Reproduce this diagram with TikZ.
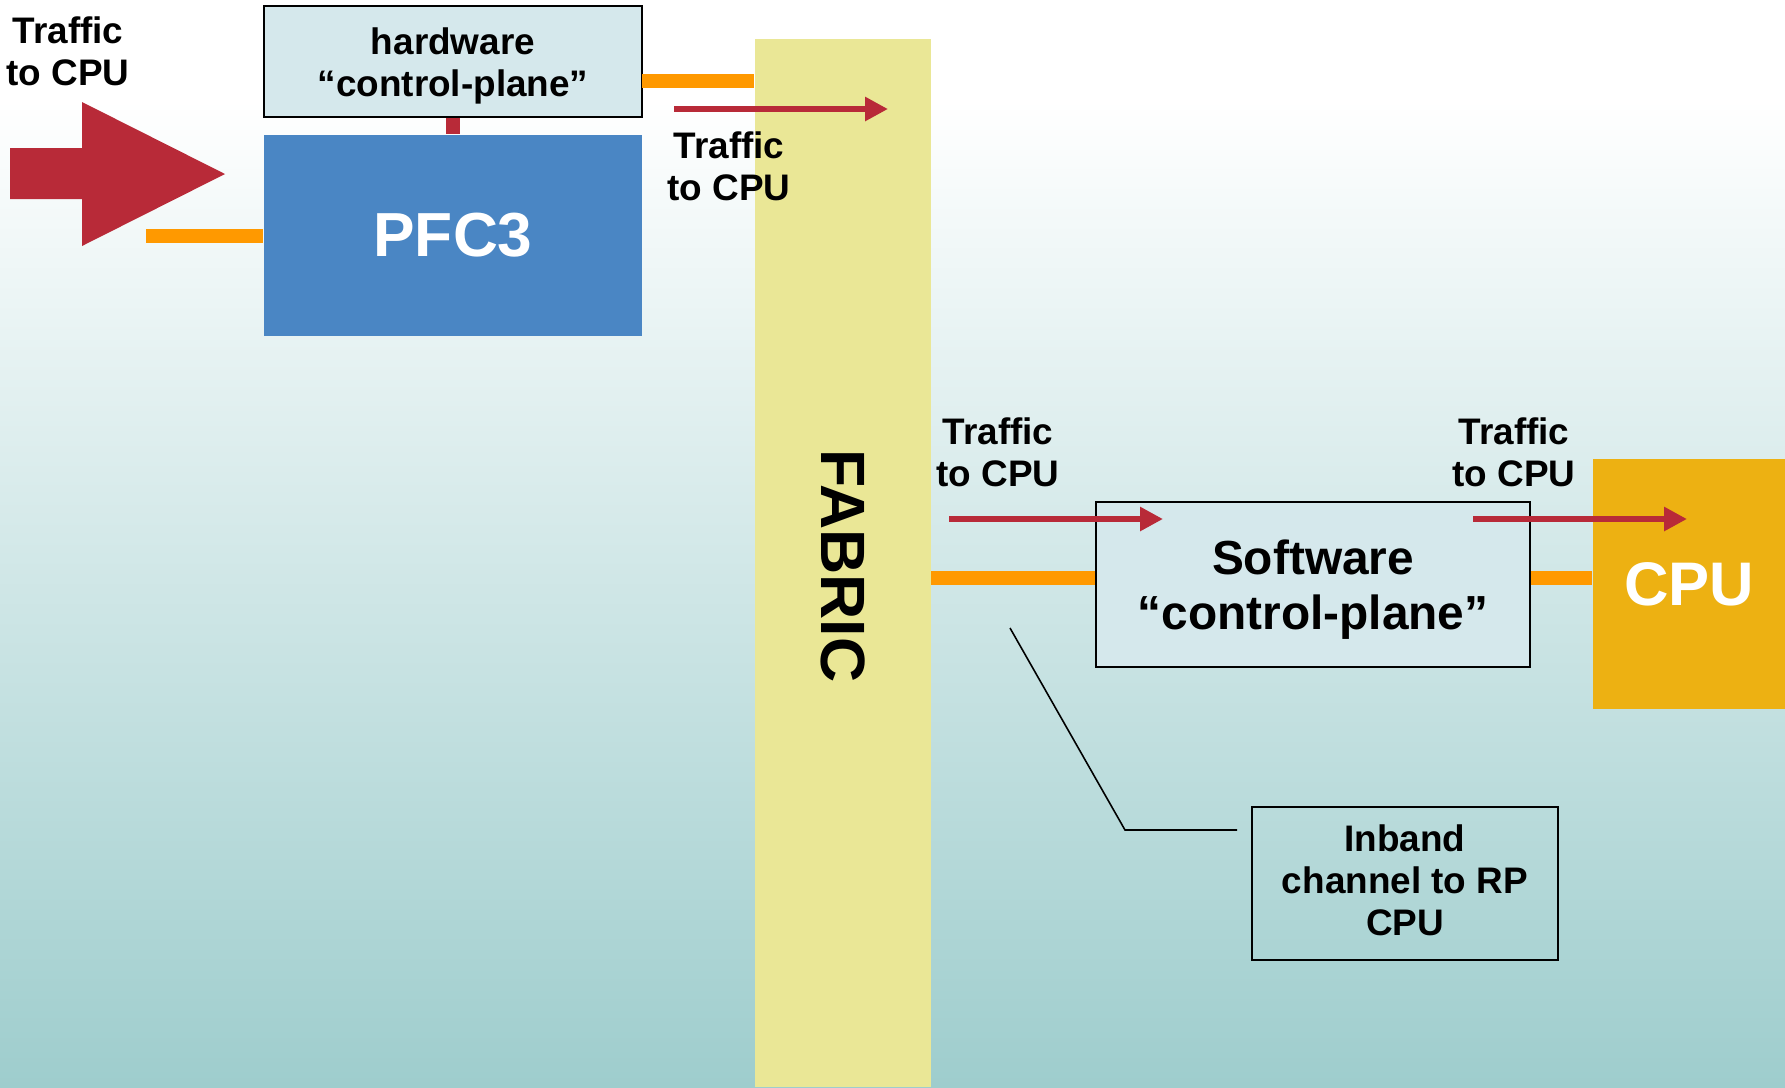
\documentclass[tikz,border=0pt]{standalone}
\usepackage{fontspec}
\setmainfont{Liberation Sans}
\usetikzlibrary{arrows.meta}
\definecolor{redc}{RGB}{184,42,56}
\definecolor{orangec}{RGB}{255,153,0}
\definecolor{fabricc}{RGB}{234,231,150}
\definecolor{pfcc}{RGB}{74,134,196}
\definecolor{cpuc}{RGB}{237,177,18}
\definecolor{boxc}{RGB}{213,232,236}
\definecolor{tealc}{RGB}{158,205,205}
\begin{document}
\begin{tikzpicture}[x=0.01cm,y=-0.01cm,
  lbl/.style={inner sep=0pt,align=center,font=\fontsize{10.5pt}{11.95pt}\selectfont\bfseries},
  lightbox/.style={draw=black,line width=0.6pt,fill=boxc,inner sep=0pt},
  solidbox/.style={inner sep=0pt,align=center,text=white},
  redarrow/.style={draw=redc,line width=1.7pt,-{Triangle[length=0.23cm,width=0.23cm]}},
  orangeline/.style={draw=orangec,line width=4pt},
  calloutline/.style={draw=black,line width=0.45pt}]
\useasboundingbox (0,0) rectangle (1785,1087);
\fill[white] (0,0) rectangle (1785,1087);
\shade[top color=white,bottom color=tealc] (0,100) rectangle (1785,1087);
% fabric
\node[fill=fabricc,minimum width=1.76cm,minimum height=10.48cm,inner sep=0pt] (fabric) at (843,563) {};
\node[inner sep=0pt,rotate=-90,font=\fontsize{17.8pt}{20pt}\selectfont\bfseries] (fabrictext) at (843,566) {FABRIC};
% boxes
\node[lightbox,minimum width=3.78cm,minimum height=1.11cm] (hw) at (453,61.5) {};
\node[lbl] (hwtext) at (453,65.5) {hardware\\``control-plane''};
\node[solidbox,fill=pfcc,minimum width=3.78cm,minimum height=2.01cm,font=\fontsize{17.7pt}{20pt}\selectfont\bfseries] (pfc) at (453,235.5) {PFC3};
\node[lightbox,minimum width=4.34cm,minimum height=1.65cm] (soft) at (1313,584.5) {};
\node[inner sep=0pt,align=center,font=\fontsize{13.6pt}{15.6pt}\selectfont\bfseries] (softtext) at (1313,589.5) {Software\\``control-plane''};
\node[solidbox,fill=cpuc,minimum width=1.92cm,minimum height=2.5cm,font=\fontsize{17.5pt}{20pt}\selectfont\bfseries] (cpu) at (1689,584) {CPU};
\node[draw=black,line width=0.5pt,inner sep=0pt,minimum width=3.06cm,minimum height=1.53cm] (inband) at (1405,883.5) {};
\node[lbl] (inbandtext) at (1405,880) {Inband\\channel to RP\\CPU};
% connectors
\draw[redc,line width=0.14cm] (hw.south) -- (pfc.north);
\coordinate (leftin) at (146,236);
\draw[orangeline] (leftin) -- (pfc.west |- leftin);
\coordinate (hwout) at (642,81);
\draw[orangeline] (hwout) -- (fabric.west |- hwout);
\coordinate (fabout) at (931,578);
\draw[orangeline] (fabout) -- (soft.west |- fabout);
\draw[orangeline] (soft.east |- fabout) -- (cpu.west |- fabout);
% big arrow
\fill[redc] (10,148) -- (82,148) -- (82,102) -- (225,174) -- (82,246) -- (82,199) -- (10,199) -- cycle;
% red arrows
\coordinate (a2s) at (674,109); \coordinate (a2e) at (888,109);
\draw[redarrow] (a2s) -- (a2e);
\coordinate (a3s) at (949,519); \coordinate (a3e) at (1163,519);
\draw[redarrow] (a3s) -- (a3e);
\coordinate (a4s) at (1473,519); \coordinate (a4e) at (1687,519);
\draw[redarrow] (a4s) -- (a4e);
% labels
\node[lbl] (l1) at (68,51) {Traffic\\to CPU};
\node[lbl] (l2) at (729,166) {Traffic\\to CPU};
\node[lbl] (l3) at (998,452) {Traffic\\to CPU};
\node[lbl] (l4) at (1514,452) {Traffic\\to CPU};
% callout
\coordinate (cs) at (1010,628);
\coordinate (ck) at (1125,830);
\coordinate (ce) at (1237,830);
\draw[calloutline] (cs) -- (ck) -- (ce);
\end{tikzpicture}
\end{document}
